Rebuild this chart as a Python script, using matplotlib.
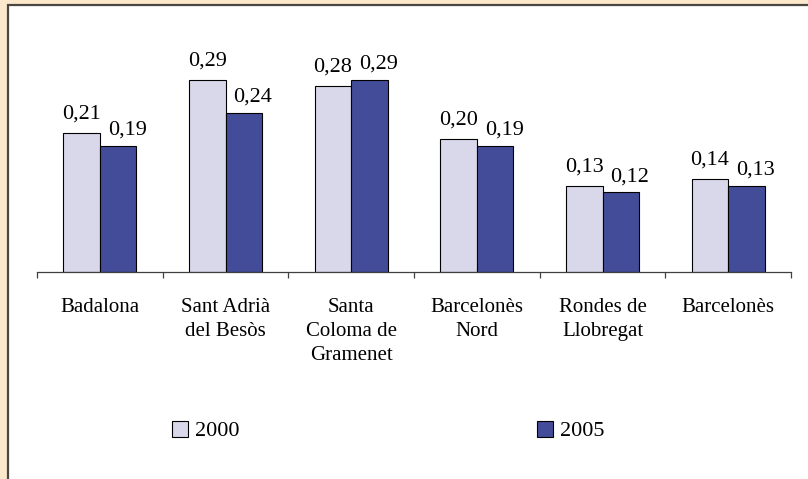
import numpy as np
import matplotlib
matplotlib.use('Agg')
import matplotlib.pyplot as plt
from matplotlib.patches import Rectangle

# Data
#####################################################
categories = ['Badalona', 'Sant Adrià\ndel Besòs', 'Santa\nColoma de\nGramenet',
              'Barcelonès\nNord', 'Rondes de\nLlobregat', 'Barcelonès']
vals_2000 = [0.21, 0.29, 0.28, 0.20, 0.13, 0.14]
vals_2005 = [0.19, 0.24, 0.29, 0.19, 0.12, 0.13]
series_names = ['2000', '2005']

# Style
#####################################################
plt.rcParams['font.family'] = ['Liberation Serif', 'DejaVu Serif']
col_light = '#D8D8EA'
col_dark = '#434C98'
W, H, dpi = 808, 479, 100

fig = plt.figure(figsize=(W/dpi, H/dpi), dpi=dpi)
fig.patch.set_facecolor('#FCE9CC')

# white panel with dark frame
panel = Rectangle((7.5/W, -0.2), 2.0, (H-5.5)/H + 0.2, transform=fig.transFigure,
                  facecolor='white', edgecolor='#4A4742', lw=1.6, zorder=-5)
fig.patches.append(panel)

ax = fig.add_axes([37/W, (H-272)/H, (791-37)/W, 232/H])
ax.set_facecolor('none')

x = np.arange(len(categories))
bw = 0.29
b1 = ax.bar(x - bw/2, vals_2000, bw, color=col_light, edgecolor='black', lw=0.8, label=series_names[0])
b2 = ax.bar(x + bw/2, vals_2005, bw, color=col_dark, edgecolor='black', lw=0.8, label=series_names[1])

ax.set_xlim(-0.5, len(categories)-0.5)
ax.set_ylim(0, 0.35)

# value labels
for xi, v in zip(x, vals_2000):
  ax.annotate(('%.2f' % v).replace('.', ','), (xi - bw/2, v), xytext=(0, 10.5),
              textcoords='offset points', ha='center', va='baseline', fontsize=16)
for xi, v in zip(x, vals_2005):
  ax.annotate(('%.2f' % v).replace('.', ','), (xi + bw/2, v), xytext=(6.5, 8),
              textcoords='offset points', ha='center', va='baseline', fontsize=16)

# axes
for s in ['left', 'right', 'top']:
  ax.spines[s].set_visible(False)
ax.spines['bottom'].set_color('#404040')
ax.spines['bottom'].set_linewidth(0.9)
ax.set_yticks([])
ax.set_xticks(x)
ax.set_xticklabels(categories, fontsize=15, linespacing=1.36)
ax.tick_params(axis='x', which='major', length=0, pad=19)
ax.set_xticks(np.arange(-0.5, len(categories)), minor=True)
ax.tick_params(axis='x', which='minor', length=4.3, width=0.9, color='#404040', direction='out')

# legend
fig.legend(handles=[b1, b2], labels=series_names, loc='center left',
           bbox_to_anchor=(172/W, 48/H), ncol=2, frameon=False, fontsize=16,
           handlelength=0.72, handleheight=0.72, handletextpad=0.3,
           columnspacing=13.4, borderpad=0, borderaxespad=0)

fig.savefig('out.png', dpi=dpi, facecolor=fig.get_facecolor())
